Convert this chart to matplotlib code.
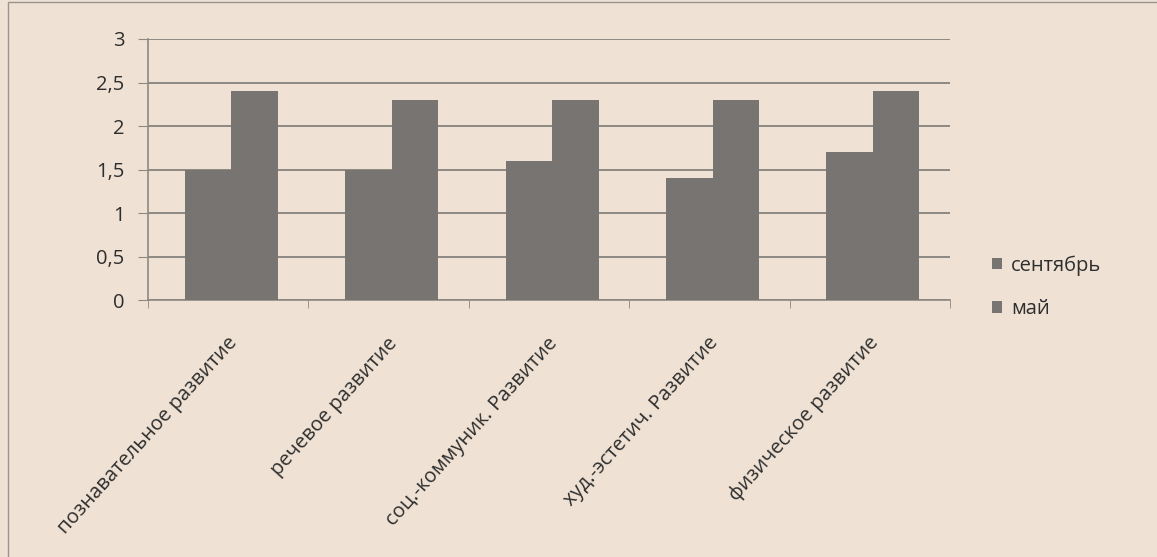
import numpy as np
import matplotlib.pyplot as plt
import matplotlib.transforms as mtransforms
from matplotlib.patches import Rectangle

# данные
categories = ["познавательное развитие", "речевое развитие", "соц.-коммуник. Развитие",
              "худ.-эстетич. Развитие", "физическое развитие"]
sentyabr = [1.5, 1.5, 1.6, 1.4, 1.7]
mai = [2.4, 2.3, 2.3, 2.3, 2.4]
yticks = [0, 0.5, 1, 1.5, 2, 2.5, 3]
ytick_labels = ["0", "0,5", "1", "1,5", "2", "2,5", "3"]

paper = "#efe2d4"
bar_col = "#787472"
grid_col = "#8e8882"
text_col = "#2e2e2e"

plt.rcParams['font.family'] = ['Open Sans', 'DejaVu Sans']

fig = plt.figure(figsize=(11.57, 5.57), dpi=100, facecolor=paper)
ax = fig.add_axes([0.128, 0.461, 0.693, 0.469])
ax.set_facecolor(paper)

x = np.arange(len(categories))
w = 0.29
ax.bar(x - w / 2 + 0.02, sentyabr, w, color=bar_col, label="сентябрь", zorder=3)
ax.bar(x + w / 2 + 0.02, mai, w, color=bar_col, label="май", zorder=3)

ax.set_xlim(-0.5, len(categories) - 0.5)
ax.set_ylim(0, 3)
ax.set_yticks(yticks)
ax.set_yticklabels(ytick_labels, fontsize=14.5, color=text_col)
ax.yaxis.grid(True, color=grid_col, linewidth=1.4, zorder=0)
ax.tick_params(axis="y", length=7, color=grid_col, pad=10)

# подписи категорий
ax.set_xticks(x)
ax.set_xticklabels(categories, rotation=48, ha="right", rotation_mode="anchor",
                   fontsize=14.5, color=text_col)
ax.tick_params(axis="x", length=0, pad=8)
shift = mtransforms.ScaledTranslation(-2 / 100, -22 / 100, fig.dpi_scale_trans)
for lbl in ax.get_xticklabels():
    lbl.set_transform(lbl.get_transform() + shift)
ax.set_xticks(np.arange(-0.5, len(categories)), minor=True)
ax.tick_params(axis="x", which="minor", length=6, color=grid_col)

for s in ["top", "right"]:
    ax.spines[s].set_visible(False)
for s in ["left", "bottom"]:
    ax.spines[s].set_color(grid_col)
    ax.spines[s].set_linewidth(1.2)

ax.legend(loc="center left", bbox_to_anchor=(1.03, 0.05), frameon=False,
          fontsize=14.5, handlelength=0.5, handleheight=0.5, handletextpad=0.45,
          labelspacing=1.15, labelcolor=text_col)

# рамка
fig.patches.append(Rectangle((0.007, -0.01), 1.2, 1.006, transform=fig.transFigure,
                             fill=False, edgecolor="#9a948e", linewidth=1.0))

fig.savefig("out.png", dpi=100, facecolor=paper)
